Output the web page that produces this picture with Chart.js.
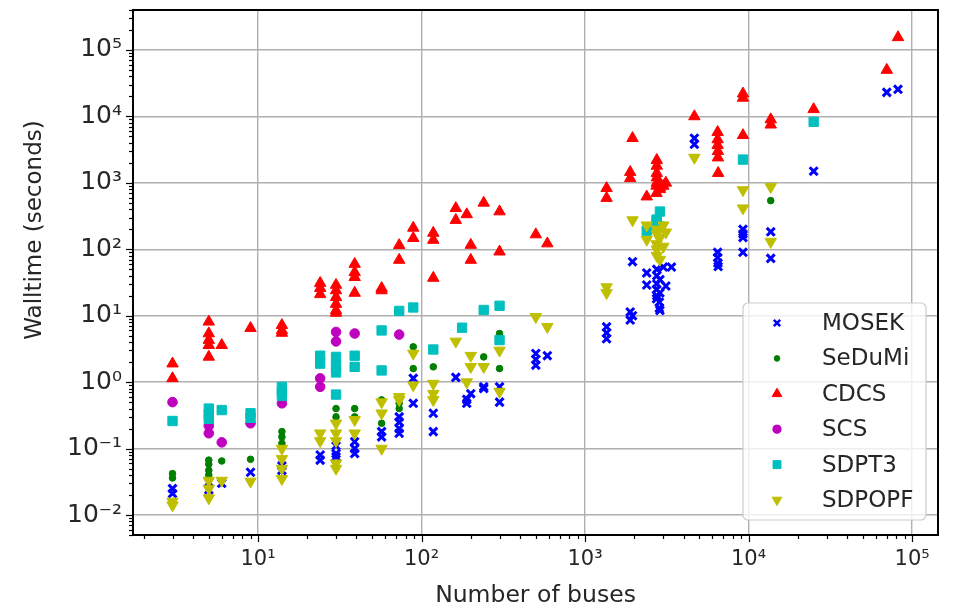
<!DOCTYPE html>
<html><head><meta charset="utf-8">
<script src="https://cdn.jsdelivr.net/npm/chart.js"></script>
<style>html,body{margin:0;padding:0;background:#fff}canvas{display:block}</style>
</head><body>
<canvas id="c" width="953" height="608"></canvas>
<script>
// ---- axis titles and tick labels ----
const X_TITLE = 'Number of buses';
const Y_TITLE = 'Walltime (seconds)';
const X_TICK_VALUES = [10, 100, 1000, 10000, 100000];
const X_TICK_LABELS = ['10¹', '10²', '10³', '10⁴', '10⁵'];
const Y_TICK_VALUES = [0.01, 0.1, 1, 10, 100, 1000, 10000, 100000];
const Y_TICK_LABELS = ['10⁻²', '10⁻¹', '10⁰', '10¹', '10²', '10³', '10⁴', '10⁵'];

// ---- series: [number of buses, walltime in seconds] ----
const SERIES_NAMES = ['MOSEK', 'SeDuMi', 'CDCS', 'SCS', 'SDPT3', 'SDPOPF'];

const MOSEK = [
  [3,0.025],[3,0.021],[5,0.031],[5,0.024],[6,0.030],[9,0.044],[14,0.047],[14,0.055],
  [24,0.080],[24,0.067],[30,0.11],[30,0.084],[30,0.075],[39,0.127],[39,0.10],[39,0.084],
  [57,0.18],[57,0.15],[73,0.30],[73,0.25],[73,0.20],[73,0.17],[89,1.14],[89,0.48],
  [118,0.34],[118,0.18],[162,1.18],[189,0.48],[189,0.55],[200,0.67],[240,0.80],[240,0.85],
  [300,0.85],[300,0.50],[500,2.7],[500,2.2],[500,1.8],[588,2.5],
  [1354,6.8],[1354,5.5],[1354,4.5],[1888,11.4],[1888,8.6],[1951,65],[1951,10],
  [2383,44],[2383,29],[2736,18],[2736,25],[2746,50],[2746,40],[2746,30],[2746,20],
  [2848,16],[2848,13],[2869,35],[2869,12],[2869,22],[3012,54],[3120,28],[3375,54],
  [4661,4700],[4661,3800],[6468,90],[6468,75],[6495,62],[6515,55],
  [9241,200],[9241,170],[9241,150],[9241,90],[13659,183],[13659,73],
  [25000,1500],[70000,23000],[82000,25600]
];
const SEDUMI = [
  [3,0.042],[3,0.036],[5,0.067],[5,0.058],[5,0.047],[5,0.040],[6,0.065],[9,0.069],
  [14,0.18],[14,0.15],[14,0.12],[30,0.40],[30,0.30],[39,0.40],[39,0.30],
  [57,0.54],[57,0.24],[73,0.48],[73,0.40],[89,3.4],[89,1.6],[118,1.7],
  [240,2.4],[300,5.4],[300,1.6],[13659,540],[25000,8300]
];
const CDCS = [
  [3,1.9],[3,1.14],[5,8.1],[5,5.4],[5,4.3],[5,3.6],[5,2.4],[6,3.6],[9,6.5],
  [14,7.2],[14,6.0],[14,5.5],[24,31],[24,26],[24,21],
  [30,29],[30,24],[30,19],[30,15],[30,12],[30,11],[39,60],[39,45],[39,38],[39,22],
  [57,26],[57,24],[73,115],[73,69],[89,210],[89,147],[118,176],[118,138],[118,37],
  [162,415],[162,275],[189,335],[200,116],[200,69],[240,500],[300,370],[300,92],
  [500,167],[588,122],[1354,830],[1354,590],[1888,1450],[1888,1170],[1951,4700],
  [2383,620],[2736,700],[2736,900],[2746,2200],[2746,1800],[2746,1400],[2746,1200],[2746,1000],
  [2869,850],[2869,800],[2869,950],[3012,900],[3120,1000],[4661,10000],
  [6468,5800],[6468,4500],[6468,3700],[6495,3000],[6495,2400],[6515,1400],
  [9241,22000],[9241,19000],[9241,5200],[13659,9000],[13659,7500],
  [25000,12800],[70000,50000],[82000,155000]
];
const SCS = [
  [3,0.50],[5,0.22],[5,0.17],[6,0.124],[9,0.24],[14,0.48],[24,1.14],[24,0.85],
  [30,5.7],[30,4.1],[39,5.4],[73,5.2]
];
const SDPT3 = [
  [3,0.26],[5,0.40],[5,0.33],[5,0.28],[6,0.38],[9,0.34],[9,0.29],[14,0.85],[14,0.72],[14,0.62],
  [24,2.5],[24,1.9],[30,2.4],[30,1.8],[30,1.4],[30,0.65],[39,2.5],[39,1.7],[57,6.0],[57,1.5],
  [73,11.8],[89,13.3],[118,3.1],[177,6.6],[240,12.2],[300,14.1],[300,4.3],
  [2383,190],[2736,230],[2736,275],[2746,280],[2869,370],[2869,220],[9241,2240],[25000,8300]
];
const SDPOPF = [
  [3,0.016],[3,0.014],[5,0.033],[5,0.025],[5,0.018],[6,0.033],[9,0.032],
  [14,0.10],[14,0.07],[14,0.05],[14,0.035],[24,0.17],[24,0.13],
  [30,0.24],[30,0.17],[30,0.13],[30,0.06],[30,0.05],[39,0.27],[39,0.17],
  [57,0.50],[57,0.34],[57,0.10],[73,0.60],[73,0.54],[89,2.7],[89,0.9],
  [118,0.95],[118,0.67],[118,0.54],[162,4.1],[189,1.0],[200,2.5],[200,1.7],[240,1.7],
  [300,3.0],[300,0.72],[500,9.6],[588,6.8],[1354,27],[1354,22],[1951,275],
  [2383,230],[2383,140],[2736,200],[2736,120],[2746,170],[2746,100],[2746,80],
  [2869,150],[2869,70],[3012,230],[3012,110],[3120,180],[4661,2400],
  [9241,780],[9241,415],[13659,870],[13659,130]
];

const X_MIN = 1.72, X_MAX = 1.44e5;
const Y_MIN = 0.005, Y_MAX = 4e5;

const FONT = "'DejaVu Sans', 'Liberation Sans', sans-serif";

function toPoints(arr) { return arr.map(p => ({x: p[0], y: p[1]})); }

function logTicks(min, max) {
  const out = [];
  const d0 = Math.floor(Math.log10(min)), d1 = Math.ceil(Math.log10(max));
  for (let d = d0; d <= d1; d++) {
    for (let m = 1; m <= 9; m++) {
      const v = Number((m * Math.pow(10, d)).toPrecision(8));
      if (v >= min && v <= max) out.push({value: v, major: m === 1});
    }
  }
  return out;
}
function labelFor(values, labels, v) {
  for (let i = 0; i < values.length; i++) {
    if (Math.abs(v - values[i]) / values[i] < 1e-6) return labels[i];
  }
  return '';
}

const styles = [
  {c: '#0000ff', ps: 'crossRot', r: 5.6, bw: 3, rot: 0, order: 6},
  {c: '#007f00', ps: 'circle', r: 3.3, bw: 1, rot: 0, order: 5},
  {c: '#ff0000', ps: 'triangle', r: 6.6, bw: 1, rot: 0, order: 4},
  {c: '#bf00bf', ps: 'circle', r: 4.8, bw: 1, rot: 0, order: 3},
  {c: '#00bfbf', ps: 'rect', r: 6.6, bw: 1, rot: 0, order: 2},
  {c: '#bfbf00', ps: 'triangle', r: 6.6, bw: 1, rot: 180, order: 1}
];
const seriesData = [MOSEK, SEDUMI, CDCS, SCS, SDPT3, SDPOPF];

const datasets = seriesData.map((d, i) => ({
  label: SERIES_NAMES[i],
  data: toPoints(d),
  showLine: false,
  pointStyle: styles[i].ps,
  pointRadius: styles[i].r,
  pointHoverRadius: styles[i].r,
  pointRotation: styles[i].rot,
  pointBorderWidth: styles[i].bw,
  backgroundColor: styles[i].c,
  borderColor: styles[i].c,
  order: styles[i].order
}));

const frameAndLegend = {
  id: 'frameAndLegend',
  afterDraw(chart) {
    const {ctx, chartArea: a, scales: {x, y}} = chart;
    ctx.save();
    ctx.strokeStyle = '#000';
    ctx.lineWidth = 1.2;
    x.ticks.forEach(t => {
      const px = Math.round(x.getPixelForValue(t.value)) + 0.5;
      const len = t.major ? 7 : 4;
      ctx.beginPath(); ctx.moveTo(px, a.bottom); ctx.lineTo(px, a.bottom + len); ctx.stroke();
    });
    y.ticks.forEach(t => {
      const py = Math.round(y.getPixelForValue(t.value)) + 0.5;
      const len = t.major ? 7 : 4;
      ctx.beginPath(); ctx.moveTo(a.left, py); ctx.lineTo(a.left - len, py); ctx.stroke();
    });
    ctx.lineWidth = 2;
    ctx.strokeRect(a.left, a.top, a.right - a.left, a.bottom - a.top);

    // y axis title
    ctx.save();
    ctx.translate(35, 230);
    ctx.rotate(-Math.PI / 2);
    ctx.font = '23px ' + FONT;
    ctx.fillStyle = '#262626';
    ctx.textAlign = 'center';
    ctx.textBaseline = 'middle';
    ctx.fillText(Y_TITLE, 0, 0);
    ctx.restore();

    // legend (matplotlib style, lower right inside axes)
    const w = 183, h = 217;
    const lx = a.right - 12 - w, ly = a.bottom - 15 - h;
    ctx.beginPath();
    if (ctx.roundRect) ctx.roundRect(lx, ly, w, h, 5); else ctx.rect(lx, ly, w, h);
    ctx.fillStyle = 'rgba(255,255,255,0.8)';
    ctx.fill();
    ctx.lineWidth = 1.2;
    ctx.strokeStyle = '#cccccc';
    ctx.stroke();
    ctx.font = '23px ' + FONT;
    ctx.textBaseline = 'middle';
    ctx.textAlign = 'left';
    chart.data.datasets.forEach((ds, i) => {
      const cy = ly + 20 + i * 35.4;
      const cx = lx + 34;
      ctx.fillStyle = ds.backgroundColor;
      ctx.strokeStyle = ds.borderColor;
      ctx.lineWidth = ds.pointStyle === 'crossRot' ? 2.6 : 1;
      Chart.helpers.drawPoint(ctx, {
        pointStyle: ds.pointStyle, rotation: ds.pointRotation,
        radius: ds.pointStyle === 'crossRot' ? 4.5 : ds.pointRadius * 0.85,
        borderWidth: ctx.lineWidth
      }, cx, cy);
      ctx.fillStyle = '#262626';
      ctx.fillText(ds.label, lx + 79, cy + 1);
    });
    ctx.restore();
  }
};

new Chart(document.getElementById('c'), {
  type: 'scatter',
  data: {datasets},
  options: {
    responsive: false,
    animation: false,
    layout: {padding: {left: 0, top: 10, right: 15, bottom: 0}},
    plugins: {legend: {display: false}, tooltip: {enabled: false}},
    scales: {
      x: {
        type: 'logarithmic', min: X_MIN, max: X_MAX,
        afterBuildTicks: s => { s.ticks = logTicks(X_MIN, X_MAX); },
        afterFit: s => { s.height = 73; s.paddingLeft = 0; s.paddingRight = 0; },
        border: {display: false},
        grid: {
          drawTicks: false, lineWidth: 1.4,
          color: c => (c.tick && c.tick.major) ? '#b0b0b0' : 'rgba(0,0,0,0)'
        },
        ticks: {
          autoSkip: false, maxRotation: 0, padding: 12, color: '#262626',
          font: {family: FONT, size: 21},
          callback: (v) => labelFor(X_TICK_VALUES, X_TICK_LABELS, v)
        },
        title: {
          display: true, text: X_TITLE, color: '#262626',
          font: {family: FONT, size: 23.5, lineHeight: 1}, padding: {top: 0, bottom: 0}
        }
      },
      y: {
        type: 'logarithmic', min: Y_MIN, max: Y_MAX,
        afterBuildTicks: s => { s.ticks = logTicks(Y_MIN, Y_MAX); },
        afterFit: s => { s.width = 133; s.paddingTop = 0; s.paddingBottom = 0; },
        border: {display: false},
        grid: {
          drawTicks: false, lineWidth: 1.4,
          color: c => (c.tick && c.tick.major) ? '#b0b0b0' : 'rgba(0,0,0,0)'
        },
        ticks: {
          autoSkip: false, padding: 11, color: '#262626',
          font: {family: FONT, size: 25},
          callback: (v) => labelFor(Y_TICK_VALUES, Y_TICK_LABELS, v)
        },
        title: {display: false, text: Y_TITLE}
      }
    }
  },
  plugins: [frameAndLegend]
});
</script>
</body></html>
